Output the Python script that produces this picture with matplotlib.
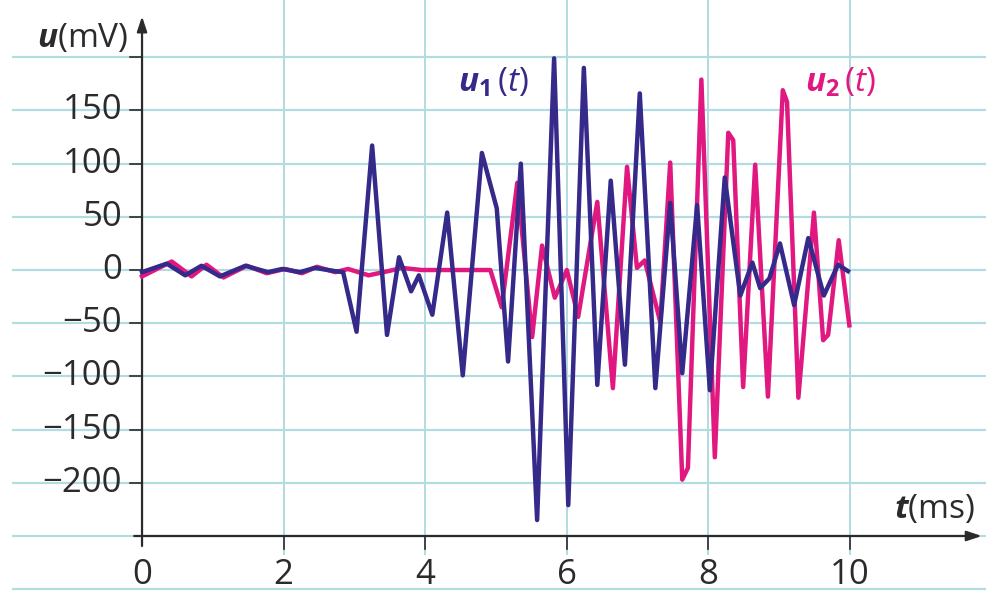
import matplotlib
matplotlib.use("Agg")
import matplotlib.pyplot as plt

# u1(t) and u2(t) (t in ms, u in mV)
t1 = [0, 0.35, 0.61, 0.84, 1.10, 1.46, 1.78, 1.98, 2.23, 2.44, 2.72, 2.84,
      3.03, 3.25, 3.46, 3.63, 3.80, 3.91, 4.10, 4.31, 4.53, 4.80, 5.01, 5.17,
      5.35, 5.58, 5.82, 6.02, 6.24, 6.43, 6.62, 6.82, 7.03, 7.25, 7.46, 7.63,
      7.84, 8.02, 8.23, 8.45, 8.62, 8.73, 8.86, 9.01, 9.21, 9.41, 9.63, 9.83, 9.97]
u1 = [-2, 6, -5, 4, -6, 4, -2, 1, -2, 2, -1, -2,
      -58, 117, -61, 12, -20, -5, -42, 54, -99, 110, 58, -86,
      100, -235, 199, -221, 190, -108, 84, -89, 166, -111, 63, -97,
      61, -113, 87, -24, 7, -17, -8, 25, -33, 30, -24, 5, -1]

t2 = [0, 0.42, 0.70, 0.91, 1.15, 1.48, 1.76, 2.02, 2.26, 2.47, 2.73, 2.91,
      3.20, 3.48, 3.67, 3.95, 4.92, 5.08, 5.30, 5.51, 5.65, 5.83, 6.00, 6.16,
      6.43, 6.65, 6.85, 6.99, 7.10, 7.32, 7.46, 7.63, 7.71, 7.90, 8.09, 8.28,
      8.35, 8.49, 8.66, 8.84, 9.05, 9.11, 9.27, 9.49, 9.62, 9.69, 9.84, 9.99]
u2 = [-6, 8, -6, 5, -7, 4, -3, 1, -3, 3, -2, 1,
      -5, -1, 2, 0, 0, -35, 82, -63, 23, -26, 0, -44,
      64, -111, 97, 2, 9, -49, 101, -197, -186, 179, -176, 129,
      122, -110, 99, -119, 169, 158, -120, 54, -66, -61, 28, -52]

x_ticks = [0, 2, 4, 6, 8, 10]
y_ticks = [-200, -150, -100, -50, 0, 50, 100, 150]
y_grid = [-300, -250, -200, -150, -100, -50, 0, 50, 100, 150, 200]

blue = "#35298a"
pink = "#e0187f"
grid_c = "#b3dbe2"
ink = "#2b2b2b"

plt.rcParams["font.family"] = ["Open Sans", "DejaVu Sans"]
plt.rcParams["mathtext.fontset"] = "custom"
plt.rcParams["mathtext.rm"] = "Open Sans"
plt.rcParams["mathtext.it"] = "Open Sans:italic"
plt.rcParams["mathtext.bf"] = "Open Sans:bold"
plt.rcParams["mathtext.bfit"] = "Open Sans:italic:bold"

fig = plt.figure(figsize=(9.86, 5.91), dpi=100)
ax = fig.add_axes([0, 0, 1, 1])
ax.set_xlim(-2.006, 11.92)
ax.set_ylim(-301.7, 253.8)
ax.axis("off")

# grid
ax.hlines(y_grid, -1.83, 11.92, color=grid_c, lw=1.6, zorder=0)
ax.vlines([2, 4, 6, 8, 10], -268, 253.8, color=grid_c, lw=1.4, zorder=0)

# axes with arrows
ax.annotate("", xy=(11.9, -250), xytext=(-0.15, -250),
            arrowprops=dict(arrowstyle="-|>,head_length=0.9,head_width=0.3", color=ink, lw=1.6))
ax.annotate("", xy=(0, 241), xytext=(0, -262),
            arrowprops=dict(arrowstyle="-|>,head_length=0.9,head_width=0.3", color=ink, lw=1.6))
for y in y_ticks + [200]:
    ax.plot([-0.17, 0], [y, y], color=ink, lw=1.2)
for x in x_ticks[1:]:
    ax.plot([x, x], [-250, -262], color=ink, lw=1.2)

for y in y_ticks:
    lab = str(y).replace("-", "\u2212")
    ax.text(-0.28, y, lab, ha="right", va="center", fontsize=25, color=ink)
for x in x_ticks:
    ax.text(x, -287, str(x), ha="center", va="center", fontsize=25, color=ink)

ax.text(-0.2, 218, r"$\mathbfit{u}$(mV)", ha="right", va="center", fontsize=24, color=ink)
ax.text(11.77, -225, r"$\mathbfit{t}$(ms)", ha="right", va="center", fontsize=24, color=ink)

# curves
ax.plot(t2, u2, color=pink, lw=3.2, solid_joinstyle="round", zorder=3)
ax.plot(t1, u1, color=blue, lw=3.2, solid_joinstyle="round", zorder=4)

ax.text(4.46, 176, r"$\mathbfit{u}_{\mathbf{1}}\,(\mathit{t})$", ha="left", va="center",
        fontsize=24, color=blue)
ax.text(9.37, 176, r"$\mathbfit{u}_{\mathbf{2}}\,(\mathit{t})$", ha="left", va="center",
        fontsize=24, color=pink)

fig.savefig("out.png", dpi=100)
